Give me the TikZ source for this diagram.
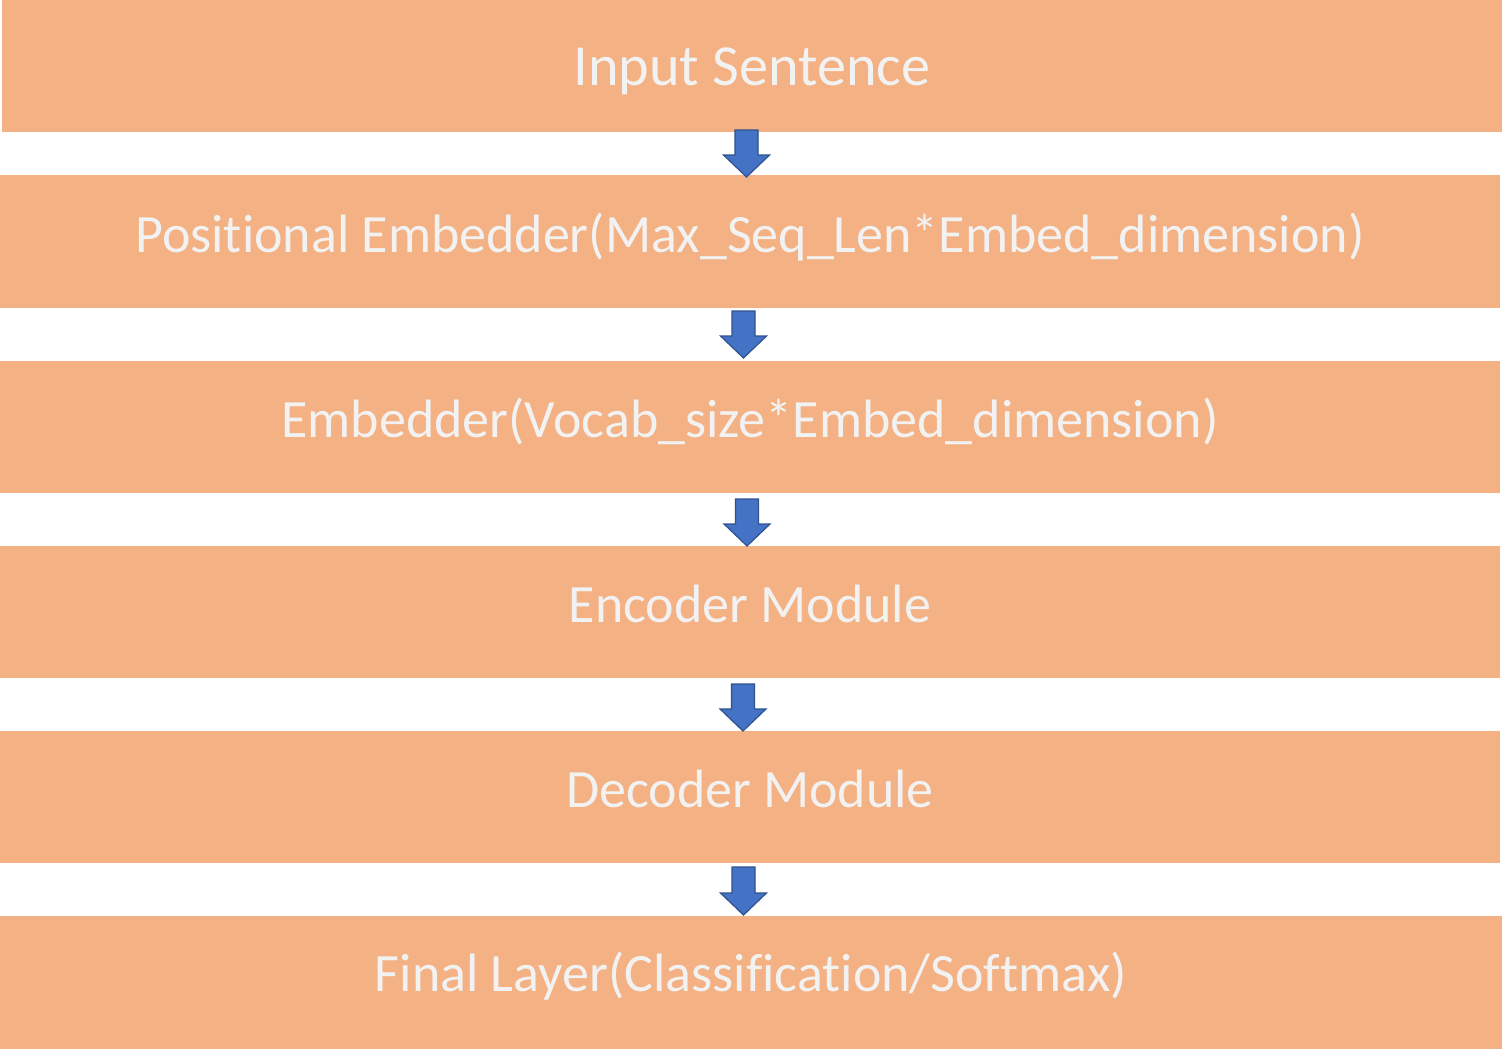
\documentclass[tikz,border=0pt]{standalone}
\usepackage{fontspec}
\setmainfont[Ligatures=NoCommon]{Carlito}
\usetikzlibrary{calc}
\definecolor{boxfill}{HTML}{F4B183}
\definecolor{txtcol}{HTML}{F2F2F2}
\definecolor{arrowfill}{HTML}{4472C4}
\definecolor{arrowdraw}{HTML}{2F528F}
\tikzset{
  stage/.style={fill=boxfill, inner sep=0pt, outer sep=0pt, text=txtcol,
    font=\fontsize{27}{27}\selectfont, text height=18pt, text depth=8pt},
  blockarrow/.style={draw=arrowdraw, fill=arrowfill, line width=0.6pt, line join=miter,
    to path={let \p1=(\tikztostart), \p2=(\tikztotarget) in
      (\x1-5.75pt,\y1) -- (\x1+5.75pt,\y1) -- (\x1+5.75pt,\y2+11pt) -- (\x1+11.5pt,\y2+11pt)
      -- (\x1,\y2) -- (\x1-11.5pt,\y2+11pt) -- (\x1-5.75pt,\y2+11pt) -- cycle}}
}
\begin{document}
\begin{tikzpicture}[x=0.5pt,y=-0.5pt]
\useasboundingbox (0,0) rectangle (1502,1049);
\fill[white] (0,0) rectangle (1502,1049);
\node[stage, minimum width=750pt, minimum height=66pt, font=\fontsize{29.1}{29.1}\selectfont, text height=22pt, text depth=3pt] (b1) at (752,66) {Input Sentence};
\node[stage, minimum width=750pt, minimum height=66.5pt, text height=18pt, text depth=7.5pt] (b2) at (750,241.5) {Positional Embedder(Max\_Seq\_Len*Embed\_dimension)};
\node[stage, minimum width=750pt, minimum height=66pt] (b3) at (750,427) {Embedder(Vocab\_size*Embed\_dimension)};
\node[stage, minimum width=750pt, minimum height=66pt] (b4) at (750,612) {Encoder Module};
\node[stage, minimum width=750pt, minimum height=66pt] (b5) at (750,797) {Decoder Module};
\node[stage, minimum width=751pt, minimum height=66.5pt, text height=18pt, text depth=9.5pt] (b6) at (751,982.5) {Final Layer(Classification/Softmax)};
\draw[blockarrow] ($(b1.south)+(-5.5,-2)$) to ($(b2.north)+(-5.5,2)$);
\draw[blockarrow] ($(b2.south)+(-6.5,3)$) to ($(b3.north)+(-6.5,-3)$);
\draw[blockarrow] ($(b3.south)+(-3,6)$) to ($(b4.north)+(-3,0)$);
\draw[blockarrow] ($(b4.south)+(-7,6)$) to ($(b5.north)+(-7,0)$);
\draw[blockarrow] ($(b5.south)+(-6.5,4)$) to ($(b6.north)+(-6.5,-1)$);
\end{tikzpicture}
\end{document}
